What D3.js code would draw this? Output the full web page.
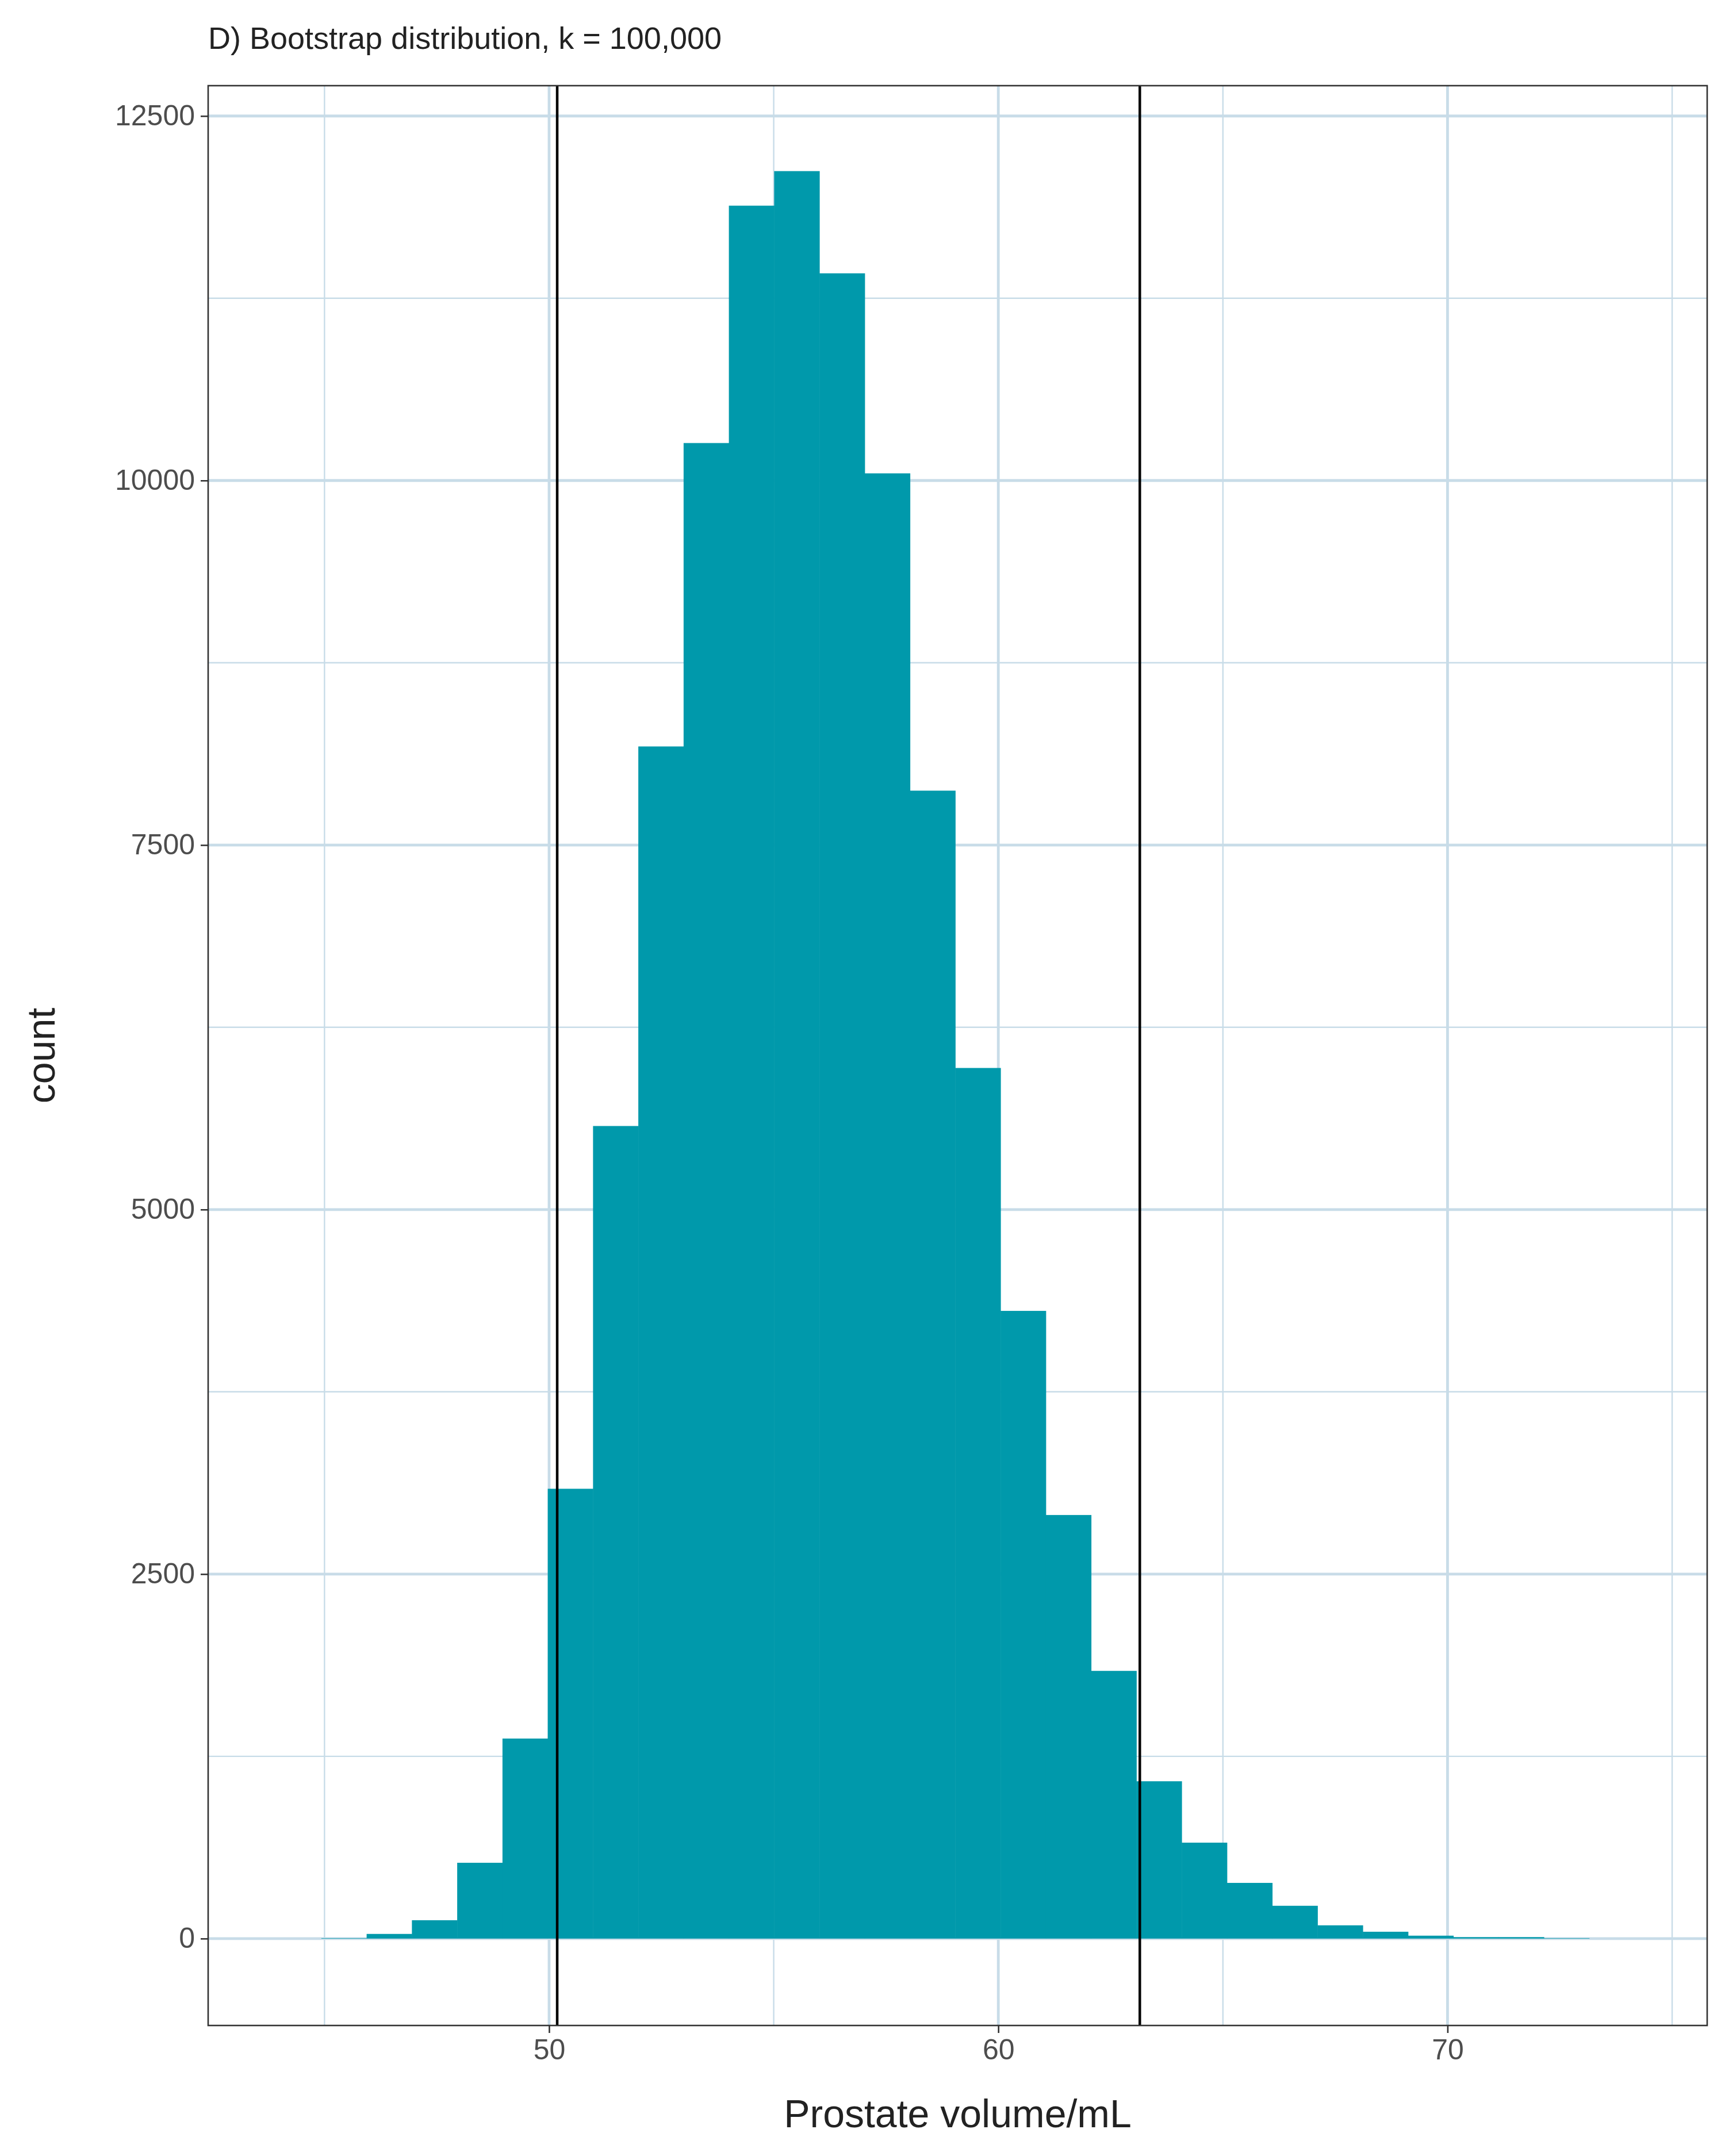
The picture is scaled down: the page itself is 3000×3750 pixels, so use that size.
<!DOCTYPE html>
<html>
<head>
<meta charset="utf-8">
<script src="https://d3js.org/d3.v7.min.js"></script>
<style>
  body { margin: 0; background: #fff; }
  text { font-family: "Liberation Sans", Arial, sans-serif; }
</style>
</head>
<body>
<script>
// bin edges (left) and counts
var binStart = 44.93;
var binWidth = 1.008;
var counts = [3, 32, 126, 520, 1372, 3085, 5573, 8176, 10257, 11885, 12122, 11421, 10049, 7873,
              5971, 4305, 2905, 1836, 1079, 658, 382, 225, 91, 47, 20, 10, 10, 3];
var ciLines = [50.18, 63.15];
var xTicks = [50, 60, 70];
var xMinor = [45, 55, 65, 75];
var yTicks = [0, 2500, 5000, 7500, 10000, 12500];
var yMinor = [1250, 3750, 6250, 8750, 11250];
var titleText = "D) Bootstrap distribution, k = 100,000";
var xLabel = "Prostate volume/mL";
var yLabel = "count";

var W = 3000, H = 3750;
var L = 362, R = 2969, T = 149, B = 3523;
var grid = "#c8dce8", fill = "#0099ab";

var x = d3.scaleLinear().domain([42.41, 75.78]).range([L, R]);
var y = d3.scaleLinear().domain([-596, 12708]).range([B, T]);

var svg = d3.select("body").append("svg").attr("width", W).attr("height", H);

// grid
svg.selectAll(".xm").data(xMinor).enter().append("line")
  .attr("x1", d => x(d)).attr("x2", d => x(d)).attr("y1", T).attr("y2", B)
  .attr("stroke", grid).attr("stroke-width", 2.4);
svg.selectAll(".ym").data(yMinor).enter().append("line")
  .attr("y1", d => y(d)).attr("y2", d => y(d)).attr("x1", L).attr("x2", R)
  .attr("stroke", grid).attr("stroke-width", 2.4);
svg.selectAll(".xM").data(xTicks).enter().append("line")
  .attr("x1", d => x(d)).attr("x2", d => x(d)).attr("y1", T).attr("y2", B)
  .attr("stroke", grid).attr("stroke-width", 4.8);
svg.selectAll(".yM").data(yTicks).enter().append("line")
  .attr("y1", d => y(d)).attr("y2", d => y(d)).attr("x1", L).attr("x2", R)
  .attr("stroke", grid).attr("stroke-width", 4.8);

// bars
svg.selectAll(".bar").data(counts).enter().append("rect")
  .attr("x", (d, i) => x(binStart + i * binWidth))
  .attr("width", (d, i) => x(binStart + (i + 1) * binWidth) - x(binStart + i * binWidth) + 0.5)
  .attr("y", d => y(d))
  .attr("height", d => y(0) - y(d))
  .attr("fill", fill);

// CI lines
svg.selectAll(".ci").data(ciLines).enter().append("line")
  .attr("x1", d => x(d)).attr("x2", d => x(d)).attr("y1", T).attr("y2", B)
  .attr("stroke", "#000").attr("stroke-width", 4.5);

// panel border
svg.append("rect").attr("x", L).attr("y", T).attr("width", R - L).attr("height", B - T)
  .attr("fill", "none").attr("stroke", "#333").attr("stroke-width", 2.6);

// axes
var xAxis = svg.append("g").attr("transform", "translate(0," + B + ")")
  .call(d3.axisBottom(x).tickValues(xTicks).tickSize(13).tickPadding(10));
var yAxis = svg.append("g").attr("transform", "translate(" + L + ",0)")
  .call(d3.axisLeft(y).tickValues(yTicks).tickSize(13).tickPadding(10).tickFormat(d3.format("d")));
[xAxis, yAxis].forEach(function(g) {
  g.select(".domain").remove();
  g.selectAll(".tick line").attr("stroke", "#333").attr("stroke-width", 2.6);
  g.selectAll(".tick text").attr("fill", "#4d4d4d").style("font-size", "50px")
    .style("font-family", "'Liberation Sans', Arial, sans-serif");
});

svg.append("text").attr("x", L).attr("y", 85).text(titleText)
  .style("font-size", "54px").attr("fill", "#222");
svg.append("text").attr("x", (L + R) / 2).attr("y", 3700).attr("text-anchor", "middle")
  .text(xLabel).style("font-size", "68px").attr("fill", "#222");
svg.append("text").attr("transform", "translate(95," + (T + B) / 2 + ") rotate(-90)")
  .attr("text-anchor", "middle").text(yLabel).style("font-size", "68px").attr("fill", "#222");
</script>
</body>
</html>
